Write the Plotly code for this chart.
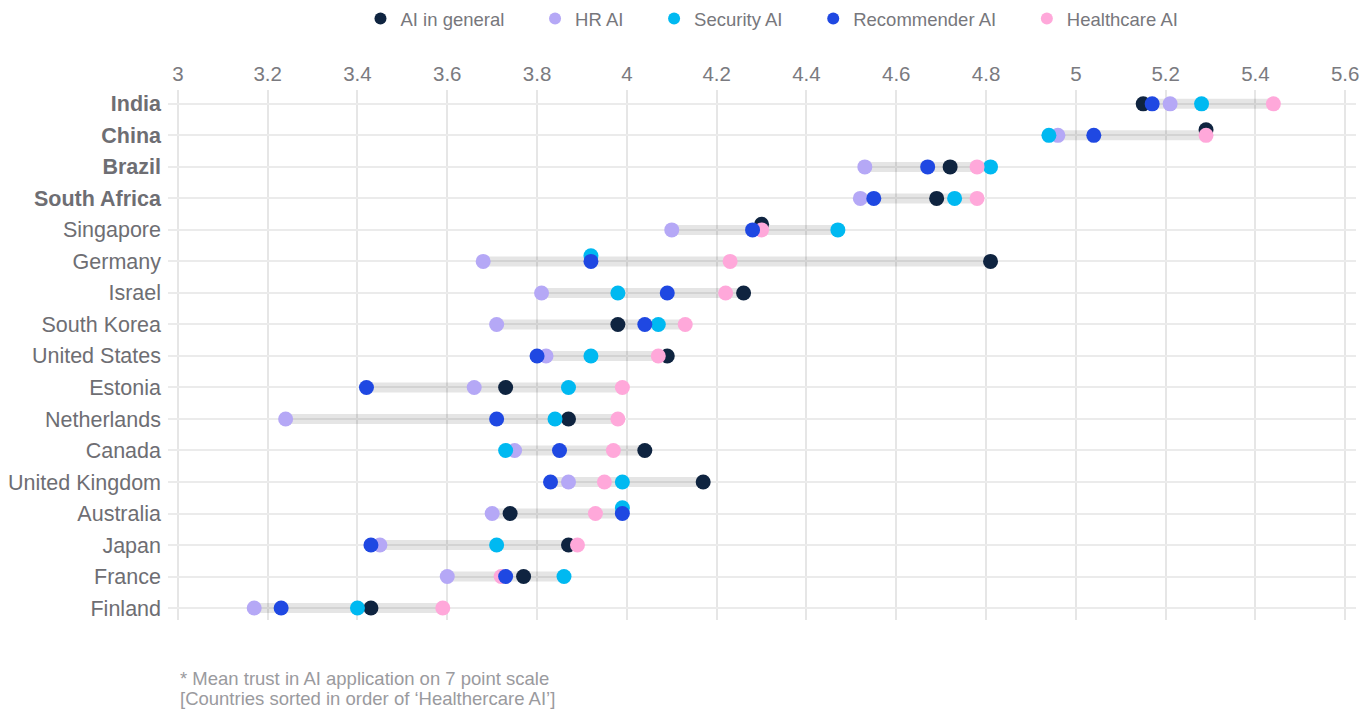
import plotly.graph_objects as go

countries = ["India", "China", "Brazil", "South Africa", "Singapore", "Germany", "Israel",
             "South Korea", "United States", "Estonia", "Netherlands", "Canada",
             "United Kingdom", "Australia", "Japan", "France", "Finland"]
bold_countries = ["India", "China", "Brazil", "South Africa"]

ai_general  = [5.15, 5.29, 4.72, 4.69, 4.30, 4.81, 4.26, 3.98, 4.09, 3.73, 3.87, 4.04, 4.17, 3.74, 3.87, 3.77, 3.43]
hr_ai       = [5.21, 4.96, 4.53, 4.52, 4.10, 3.68, 3.81, 3.71, 3.82, 3.66, 3.24, 3.75, 3.87, 3.70, 3.45, 3.60, 3.17]
security_ai = [5.28, 4.94, 4.81, 4.73, 4.47, 3.92, 3.98, 4.07, 3.92, 3.87, 3.84, 3.73, 3.99, 3.99, 3.71, 3.86, 3.40]
recomm_ai   = [5.17, 5.04, 4.67, 4.55, 4.28, 3.92, 4.09, 4.04, 3.80, 3.42, 3.71, 3.85, 3.83, 3.99, 3.43, 3.73, 3.23]
health_ai   = [5.44, 5.29, 4.78, 4.78, 4.30, 4.23, 4.22, 4.13, 4.07, 3.99, 3.98, 3.97, 3.95, 3.93, 3.89, 3.72, 3.59]

x_ticks = [3, 3.2, 3.4, 3.6, 3.8, 4, 4.2, 4.4, 4.6, 4.8, 5, 5.2, 5.4, 5.6]

footnote_lines = ["* Mean trust in AI application on 7 point scale",
                  "[Countries sorted in order of ‘Healthercare AI’]"]

NB = "\u00a0"
# drawing order (bottom to top), legend order via legendrank
series = [
    ("AI in general", ai_general, "#0f2440", 1),
    ("HR AI", hr_ai, "#b5a8f6", 2),
    ("Security AI", security_ai, "#00b9f1", 3),
    ("Healthcare AI", health_ai, "#ffa8da", 5),
    ("Recommender AI", recomm_ai, "#1f48e2", 4),
]

idx = list(range(len(countries)))
fig = go.Figure()

# range bars (min to max per country)
bx, by = [], []
for i in idx:
    vals = [s[1][i] for s in series]
    bx += [min(vals), max(vals), None]
    by += [i, i, None]
fig.add_trace(go.Scatter(x=bx, y=by, mode="lines", line=dict(color="rgba(0,0,0,0.10)", width=10),
                         hoverinfo="skip", showlegend=False))

# dodge: a point drawn beneath an identical later-drawn value is nudged upward
for k, (name, vals, color, rank) in enumerate(series):
    ys = []
    for i in idx:
        later = [s[1][i] for s in series[k + 1:]]
        ys.append(i - 0.18 if any(abs(vals[i] - v) < 0.005 for v in later) else i)
    label = name if rank == 5 else name + NB * 5
    fig.add_trace(go.Scatter(x=vals, y=ys, mode="markers", name=label, legendrank=rank,
                             marker=dict(color=color, size=15, line=dict(width=0))))

ticktext = [f"<b>{c}</b>" if c in bold_countries else c for c in countries]
xticktext = [f"{v:g}" for v in x_ticks]

W, H = 1367, 713
L, R, T, B = 168, 8, 90, 93
pw, ph = W - L - R, H - T - B

fig.update_layout(
    width=W, height=H,
    margin=dict(l=L, r=R, t=T, b=B),
    plot_bgcolor="white", paper_bgcolor="white",
    font=dict(family="Liberation Sans, Arial, sans-serif", color="#77777c"),
    legend=dict(orientation="h", x=0.5 + 10 / pw, xref="paper", xanchor="center", y=1.0,
                yref="container", yanchor="top", font=dict(size=18.5, color="#77777c"),
                itemsizing="constant", traceorder="normal", itemwidth=30),
    xaxis=dict(side="top", range=[2.978, 5.624], tickvals=x_ticks,
               ticktext=xticktext, showgrid=True, gridcolor="#e6e6e6",
               gridwidth=1.5, zeroline=False, showline=False, ticks="",
               tickfont=dict(size=20.5, color="#7a7a7f"), ticklabelstandoff=4),
    yaxis=dict(range=[16.38, -0.44], tickvals=idx, ticktext=ticktext, showgrid=True,
               gridcolor="#ebebeb", gridwidth=1.5, zeroline=False, showline=False, ticks="",
               tickfont=dict(size=21.5, color="#6e6e73"), ticklabelstandoff=6),
)
for j, (line, ypix) in enumerate(zip(footnote_lines, [678, 698])):
    fig.add_annotation(text=line, xref="paper", x=(178 - L) / pw, xanchor="left",
                       yref="paper", y=(H - B - ypix) / ph, yanchor="middle",
                       showarrow=False, align="left", font=dict(size=18.5, color="#9a9a9e"))

fig.write_html("out.html", config={"displayModeBar": False},
               post_script="document.body.style.margin='0';")
